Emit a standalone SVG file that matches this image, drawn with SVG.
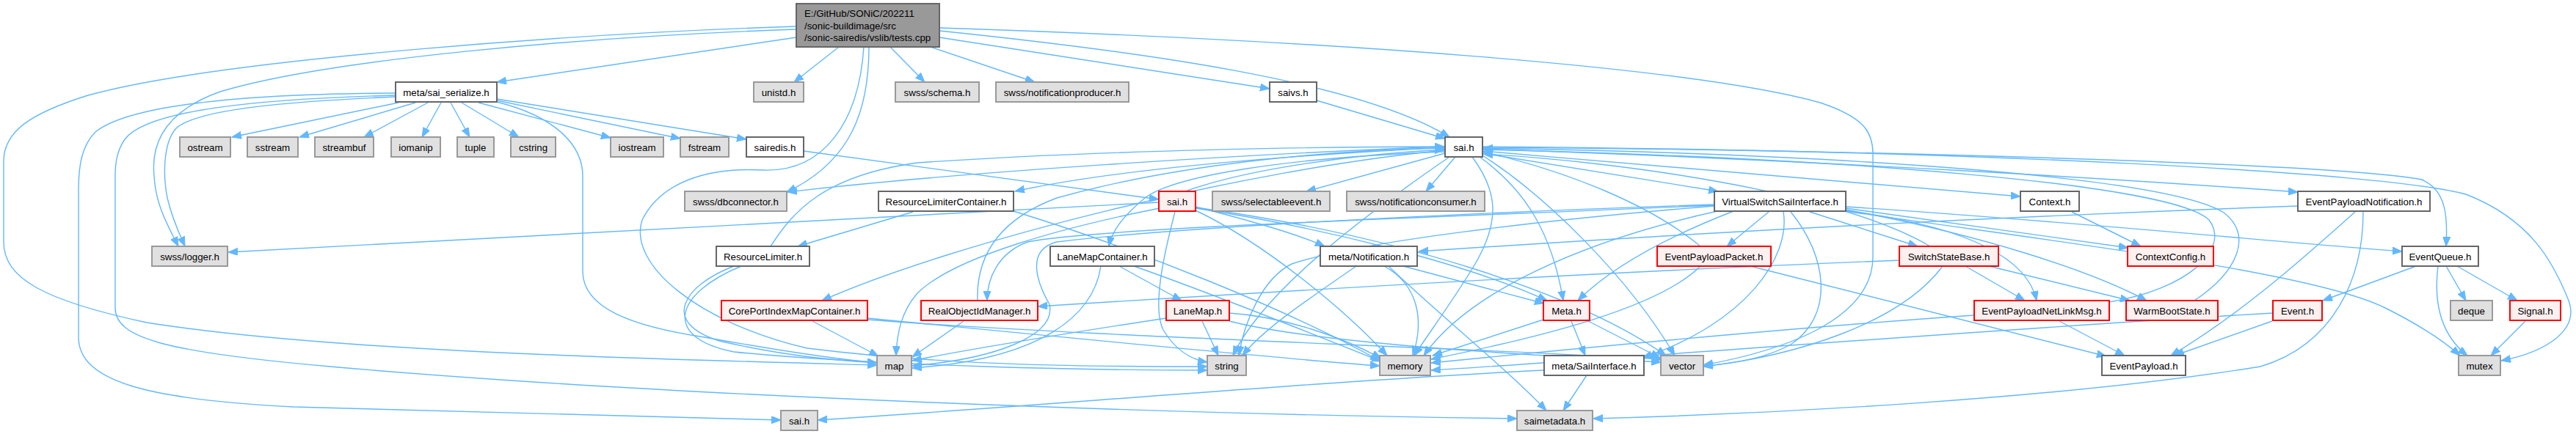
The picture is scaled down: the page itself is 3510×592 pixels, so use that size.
<svg xmlns="http://www.w3.org/2000/svg" width="3510" height="592" viewBox="0 0 3510 592">
<style>
.e{fill:none;stroke:#63b8ff;stroke-width:1.4;marker-end:url(#ah)}
.n rect{stroke-width:2}
.gr rect{fill:#e0e0e0;stroke:#999999}
.wh rect{fill:#ffffff;stroke:#666666}
.rd rect{fill:#fff0f0;stroke:#ff0000}
.tp rect{fill:#999999;stroke:#666666}
text{font-family:"Liberation Sans",Arial,sans-serif;font-size:13.3px;fill:#000;text-anchor:middle}
.tp text{text-anchor:start}
</style>
<defs>
<marker id="ah" markerUnits="userSpaceOnUse" markerWidth="14" markerHeight="11" refX="13" refY="5" orient="auto">
<path d="M0,0 L13,5 L0,10 z" fill="#63b8ff" stroke="#63b8ff" stroke-width="1"/>
</marker>
</defs>
<rect width="3510" height="592" fill="#ffffff"/>
<g id="edges">
<path class="e" d="M1085,51 L677,112"/>
<path class="e" d="M1085,40 C800,50 450,80 300,125 C230,150 205,190 210,240 C212,280 230,310 243,336"/>
<path class="e" d="M1085,36 C800,45 300,80 120,130 C40,155 5,180 5,220 L5,330 C5,380 60,410 200,440 C450,480 900,490 1195,498"/>
<path class="e" d="M1143,64 L1082,112"/>
<path class="e" d="M1213,64 L1260,112"/>
<path class="e" d="M1268,64 L1410,112"/>
<path class="e" d="M1280,51 L1730,121"/>
<path class="e" d="M1280,42 C1550,70 1850,110 1975,187"/>
<path class="e" d="M1280,38 C1800,55 2300,90 2480,140 C2540,160 2552,180 2552,210 L2552,350 C2552,440 2420,480 2321,498"/>
<path class="e" d="M1184,64 C1184,150 1160,220 1072,262"/>
<path class="e" d="M1177,64 C1170,170 1120,235 1040,232 C960,228 900,250 875,300 C855,360 950,440 1100,475 C1300,500 1500,500 1645,500"/>
<path class="e" d="M543,140 L316,187"/>
<path class="e" d="M566,140 L408,187"/>
<path class="e" d="M583,140 L496,187"/>
<path class="e" d="M601,140 L575,187"/>
<path class="e" d="M614,140 L640,187"/>
<path class="e" d="M629,140 L707,187"/>
<path class="e" d="M652,140 L832,188"/>
<path class="e" d="M677,137 L927,189"/>
<path class="e" d="M677,135 L1017,190"/>
<path class="e" d="M677,139 C760,160 794,200 794,240 L794,370 C794,420 860,445 960,460 C1060,478 1140,490 1195,495"/>
<path class="e" d="M539,132 C400,138 270,148 240,175 C222,195 222,240 228,270 C235,300 245,320 252,336"/>
<path class="e" d="M539,127 C350,128 180,140 130,180 C110,200 107,230 107,260 L107,460 C107,520 200,545 400,555 C700,565 950,570 1064,573"/>
<path class="e" d="M539,130 C350,135 200,150 170,190 C160,205 157,220 157,240 L157,420 C157,460 220,480 450,500 C900,540 1600,565 2067,571"/>
<path class="e" d="M1794,137 L1969,189"/>
<path class="e" d="M1095,206 L1579,272"/>
<path class="e" d="M1969,200 C1700,210 1300,235 1073,262"/>
<path class="e" d="M1969,201 C1700,215 1500,235 1383,261"/>
<path class="e" d="M1969,205 C1700,230 1300,330 1120,410"/>
<path class="e" d="M1969,207 C1750,215 1600,240 1560,270 C1530,295 1515,315 1511,336"/>
<path class="e" d="M1969,209 L1780,261"/>
<path class="e" d="M1983,214 L1943,261"/>
<path class="e" d="M2006,214 C2040,260 2045,300 2010,360 C1980,410 1950,450 1927,485"/>
<path class="e" d="M2016,214 C2080,260 2115,320 2130,410"/>
<path class="e" d="M2020,212 C2110,270 2220,380 2282,485"/>
<path class="e" d="M2020,209 L2341,261"/>
<path class="e" d="M2020,206 C2300,230 2600,255 2753,268"/>
<path class="e" d="M2020,203 C2500,220 2900,245 3131,262"/>
<path class="e" d="M2020,201 C2600,205 3200,225 3300,245 C3335,260 3335,300 3333,336"/>
<path class="e" d="M2020,200 C2700,205 3250,235 3360,265 C3450,300 3480,360 3500,410 C3515,450 3470,480 3408,492"/>
<path class="e" d="M1975,214 C1850,300 1720,400 1680,485"/>
<path class="e" d="M1050,336 C1080,290 1120,240 1250,222 C1500,205 1800,200 1968,200"/>
<path class="e" d="M1332,410 C1330,350 1360,300 1440,270 C1600,225 1800,205 1968,202"/>
<path class="e" d="M1615,261 C1700,230 1850,210 1968,204"/>
<path class="e" d="M2317,336 C2250,280 2140,235 2021,207"/>
<path class="e" d="M2874,412 C2980,395 3040,340 3010,300 C2960,250 2500,215 2021,204"/>
<path class="e" d="M2990,410 C3050,370 3070,320 3030,290 C2950,240 2500,210 2021,202"/>
<path class="e" d="M2630,336 C2500,260 2200,220 2021,210"/>
<path class="e" d="M2362,288 C2280,320 2200,360 2150,410"/>
<path class="e" d="M2410,289 L2353,336"/>
<path class="e" d="M2466,289 L2613,336"/>
<path class="e" d="M2430,289 C2440,350 2380,440 2238,488"/>
<path class="e" d="M2440,289 C2490,350 2500,430 2440,470 C2400,492 2350,497 2321,499"/>
<path class="e" d="M2515,287 C2650,305 2760,340 2775,410"/>
<path class="e" d="M2515,286 C2700,320 2850,370 2925,410"/>
<path class="e" d="M2515,284 L2900,338"/>
<path class="e" d="M2515,282 C2800,300 3100,330 3273,343"/>
<path class="e" d="M2515,288 C2800,330 3150,370 3250,420 C3300,445 3330,465 3352,485"/>
<path class="e" d="M2336,280 C2000,295 1500,310 1400,330 C1360,345 1345,380 1345,410"/>
<path class="e" d="M2336,281 C2100,300 1850,330 1760,360 C1720,380 1695,440 1688,485"/>
<path class="e" d="M2340,288 C2150,330 2000,400 1940,485"/>
<path class="e" d="M2336,279 C2000,290 1600,310 1440,330 C1400,340 1410,380 1430,415 C1440,460 1350,490 1243,499"/>
<path class="e" d="M1579,276 C1400,285 900,315 311,344"/>
<path class="e" d="M1580,284 C1450,310 1300,350 1250,400 C1228,425 1222,455 1221,485"/>
<path class="e" d="M1601,289 C1585,350 1570,420 1585,450 C1600,475 1620,490 1645,494"/>
<path class="e" d="M1629,287 C1720,330 1830,420 1890,485"/>
<path class="e" d="M1629,284 C1800,310 2000,360 2108,410"/>
<path class="e" d="M1629,283 C1900,320 2150,400 2270,485"/>
<path class="e" d="M1629,282 C1700,300 1770,320 1805,336"/>
<path class="e" d="M1525,363 L1610,410"/>
<path class="e" d="M1500,363 C1490,430 1420,490 1243,502"/>
<path class="e" d="M1545,363 C1650,400 1800,460 1882,493"/>
<path class="e" d="M1638,438 L1660,485"/>
<path class="e" d="M1589,434 C1450,455 1300,480 1243,492"/>
<path class="e" d="M1675,427 C1750,432 1830,460 1882,489"/>
<path class="e" d="M1675,438 C1800,470 2100,485 2263,494"/>
<path class="e" d="M1244,289 L1087,336"/>
<path class="e" d="M1381,288 C1550,340 1750,420 1880,492"/>
<path class="e" d="M1000,363 C930,390 900,440 980,465 C1080,488 1150,492 1195,495"/>
<path class="e" d="M1010,363 C920,400 900,460 1000,480 C1200,500 1500,505 1645,505"/>
<path class="e" d="M1107,438 L1197,486"/>
<path class="e" d="M1182,434 C1450,460 1750,490 1880,499"/>
<path class="e" d="M1182,436 C1500,460 1900,470 2265,490"/>
<path class="e" d="M1313,438 L1243,487"/>
<path class="e" d="M1912,363 L2104,414"/>
<path class="e" d="M1886,363 C1935,390 1940,440 1925,485"/>
<path class="e" d="M1892,363 C1950,420 2050,500 2107,560"/>
<path class="e" d="M1848,363 C1780,410 1720,450 1693,485"/>
<path class="e" d="M2103,436 L1952,485"/>
<path class="e" d="M2141,438 L2160,485"/>
<path class="e" d="M2164,438 L2262,488"/>
<path class="e" d="M2162,512 L2130,560"/>
<path class="e" d="M2104,505 C1800,520 1400,555 1114,573"/>
<path class="e" d="M2317,363 C2260,420 2100,460 1950,490"/>
<path class="e" d="M2385,363 L2870,486"/>
<path class="e" d="M2678,363 L2759,410"/>
<path class="e" d="M2710,363 L2902,410"/>
<path class="e" d="M2647,363 C2590,440 2450,485 2321,500"/>
<path class="e" d="M2589,355 C2200,370 1700,400 1414,418"/>
<path class="e" d="M2806,438 L2895,485"/>
<path class="e" d="M2690,430 C2400,450 2100,480 1950,495"/>
<path class="e" d="M3096,438 L2963,485"/>
<path class="e" d="M3097,427 C2700,450 2200,490 1950,505"/>
<path class="e" d="M3292,363 L3165,410"/>
<path class="e" d="M3333,363 L3360,410"/>
<path class="e" d="M3348,363 L3430,410"/>
<path class="e" d="M3322,363 C3315,420 3330,460 3362,485"/>
<path class="e" d="M3441,438 L3394,485"/>
<path class="e" d="M3209,289 C3130,360 3050,430 2958,485"/>
<path class="e" d="M3220,289 C3220,380 3180,470 3080,500 C2800,545 2400,565 2171,571"/>
<path class="e" d="M3131,281 C2600,300 2200,325 1933,343"/>
<path class="e" d="M2823,289 L2917,336"/>
</g>
<g id="node-tests" class="n tp"><rect x="1085" y="5" width="195" height="59"/><text x="1096" y="23">E:/GitHub/SONiC/202211</text><text x="1096" y="39.5">/sonic-buildimage/src</text><text x="1096" y="56">/sonic-sairedis/vslib/tests.cpp</text></g>
<g id="node-sai_serialize" class="n wh"><rect x="539" y="112" width="138" height="27"/><text x="608" y="130.5">meta/sai_serialize.h</text></g>
<g id="node-unistd" class="n gr"><rect x="1027" y="112" width="68" height="27"/><text x="1061" y="130.5">unistd.h</text></g>
<g id="node-schema" class="n gr"><rect x="1220" y="112" width="114" height="27"/><text x="1277" y="130.5">swss/schema.h</text></g>
<g id="node-notificationproducer" class="n gr"><rect x="1357" y="112" width="181" height="27"/><text x="1447.5" y="130.5">swss/notificationproducer.h</text></g>
<g id="node-saivs" class="n wh"><rect x="1730" y="112" width="64" height="27"/><text x="1762" y="130.5">saivs.h</text></g>
<g id="node-ostream" class="n gr"><rect x="245" y="187" width="69" height="27"/><text x="279.5" y="205.5">ostream</text></g>
<g id="node-sstream" class="n gr"><rect x="337" y="187" width="69" height="27"/><text x="371.5" y="205.5">sstream</text></g>
<g id="node-streambuf" class="n gr"><rect x="429" y="187" width="80" height="27"/><text x="469" y="205.5">streambuf</text></g>
<g id="node-iomanip" class="n gr"><rect x="533" y="187" width="67" height="27"/><text x="566.5" y="205.5">iomanip</text></g>
<g id="node-tuple" class="n gr"><rect x="623" y="187" width="50" height="27"/><text x="648" y="205.5">tuple</text></g>
<g id="node-cstring" class="n gr"><rect x="696" y="187" width="61" height="27"/><text x="726.5" y="205.5">cstring</text></g>
<g id="node-iostream" class="n gr"><rect x="832" y="187" width="72" height="27"/><text x="868" y="205.5">iostream</text></g>
<g id="node-fstream" class="n gr"><rect x="927" y="187" width="66" height="27"/><text x="960" y="205.5">fstream</text></g>
<g id="node-sairedis" class="n wh"><rect x="1017" y="187" width="78" height="27"/><text x="1056" y="205.5">sairedis.h</text></g>
<g id="node-sai" class="n wh"><rect x="1969" y="187" width="51" height="27"/><text x="1994.5" y="205.5">sai.h</text></g>
<g id="node-dbconnector" class="n gr"><rect x="933" y="261" width="139" height="27"/><text x="1002.5" y="279.5">swss/dbconnector.h</text></g>
<g id="node-ResourceLimiterContainer" class="n wh"><rect x="1197" y="261" width="184" height="27"/><text x="1289" y="279.5">ResourceLimiterContainer.h</text></g>
<g id="node-sai_red" class="n rd"><rect x="1579" y="261" width="50" height="27"/><text x="1604" y="279.5">sai.h</text></g>
<g id="node-selectableevent" class="n gr"><rect x="1652" y="261" width="160" height="27"/><text x="1732" y="279.5">swss/selectableevent.h</text></g>
<g id="node-notificationconsumer" class="n gr"><rect x="1835" y="261" width="188" height="27"/><text x="1929" y="279.5">swss/notificationconsumer.h</text></g>
<g id="node-VirtualSwitchSaiInterface" class="n wh"><rect x="2336" y="261" width="179" height="27"/><text x="2425.5" y="279.5">VirtualSwitchSaiInterface.h</text></g>
<g id="node-Context" class="n wh"><rect x="2753" y="261" width="80" height="27"/><text x="2793" y="279.5">Context.h</text></g>
<g id="node-EventPayloadNotification" class="n wh"><rect x="3131" y="261" width="180" height="27"/><text x="3221" y="279.5">EventPayloadNotification.h</text></g>
<g id="node-logger" class="n gr"><rect x="207" y="336" width="103" height="27"/><text x="258.5" y="354.5">swss/logger.h</text></g>
<g id="node-ResourceLimiter" class="n wh"><rect x="976" y="336" width="127" height="27"/><text x="1039.5" y="354.5">ResourceLimiter.h</text></g>
<g id="node-LaneMapContainer" class="n wh"><rect x="1431" y="336" width="142" height="27"/><text x="1502" y="354.5">LaneMapContainer.h</text></g>
<g id="node-Notification" class="n wh"><rect x="1799" y="336" width="132" height="27"/><text x="1865" y="354.5">meta/Notification.h</text></g>
<g id="node-EventPayloadPacket" class="n rd"><rect x="2258" y="336" width="155" height="27"/><text x="2335.5" y="354.5">EventPayloadPacket.h</text></g>
<g id="node-SwitchStateBase" class="n rd"><rect x="2588" y="336" width="135" height="27"/><text x="2655.5" y="354.5">SwitchStateBase.h</text></g>
<g id="node-ContextConfig" class="n rd"><rect x="2899" y="336" width="117" height="27"/><text x="2957.5" y="354.5">ContextConfig.h</text></g>
<g id="node-EventQueue" class="n wh"><rect x="3273" y="336" width="104" height="27"/><text x="3325" y="354.5">EventQueue.h</text></g>
<g id="node-CorePortIndexMapContainer" class="n rd"><rect x="983" y="410" width="199" height="27"/><text x="1082.5" y="428.5">CorePortIndexMapContainer.h</text></g>
<g id="node-RealObjectIdManager" class="n rd"><rect x="1255" y="410" width="159" height="27"/><text x="1334.5" y="428.5">RealObjectIdManager.h</text></g>
<g id="node-LaneMap" class="n rd"><rect x="1589" y="410" width="86" height="27"/><text x="1632" y="428.5">LaneMap.h</text></g>
<g id="node-Meta" class="n rd"><rect x="2103" y="410" width="63" height="27"/><text x="2134.5" y="428.5">Meta.h</text></g>
<g id="node-EventPayloadNetLinkMsg" class="n rd"><rect x="2690" y="410" width="184" height="27"/><text x="2782" y="428.5">EventPayloadNetLinkMsg.h</text></g>
<g id="node-WarmBootState" class="n rd"><rect x="2897" y="410" width="125" height="27"/><text x="2959.5" y="428.5">WarmBootState.h</text></g>
<g id="node-Event" class="n rd"><rect x="3097" y="410" width="67" height="27"/><text x="3130.5" y="428.5">Event.h</text></g>
<g id="node-deque" class="n gr"><rect x="3339" y="410" width="57" height="27"/><text x="3367.5" y="428.5">deque</text></g>
<g id="node-Signal" class="n rd"><rect x="3420" y="410" width="69" height="27"/><text x="3454.5" y="428.5">Signal.h</text></g>
<g id="node-map" class="n gr"><rect x="1195" y="485" width="47" height="27"/><text x="1218.5" y="503.5">map</text></g>
<g id="node-string" class="n gr"><rect x="1645" y="485" width="53" height="27"/><text x="1671.5" y="503.5">string</text></g>
<g id="node-memory" class="n gr"><rect x="1880" y="485" width="69" height="27"/><text x="1914.5" y="503.5">memory</text></g>
<g id="node-SaiInterface" class="n wh"><rect x="2104" y="485" width="136" height="27"/><text x="2172" y="503.5">meta/SaiInterface.h</text></g>
<g id="node-vector" class="n gr"><rect x="2263" y="485" width="58" height="27"/><text x="2292" y="503.5">vector</text></g>
<g id="node-EventPayload" class="n wh"><rect x="2864" y="485" width="114" height="27"/><text x="2921" y="503.5">EventPayload.h</text></g>
<g id="node-mutex" class="n gr"><rect x="3350" y="485" width="57" height="27"/><text x="3378.5" y="503.5">mutex</text></g>
<g id="node-sai_gray" class="n gr"><rect x="1064" y="560" width="50" height="27"/><text x="1089" y="578.5">sai.h</text></g>
<g id="node-saimetadata" class="n gr"><rect x="2067" y="560" width="103" height="27"/><text x="2118.5" y="578.5">saimetadata.h</text></g>
</svg>
